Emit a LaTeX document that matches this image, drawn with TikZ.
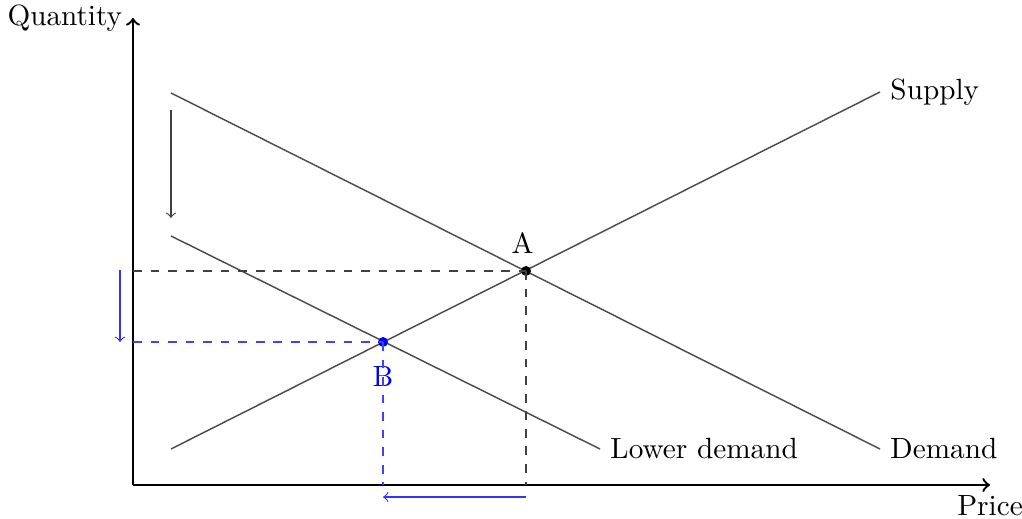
\documentclass[tikz,border=0pt]{standalone}
\usetikzlibrary{positioning, calc}
\tikzset{
  axisline/.style={thick, draw=black, ->},
  curveline/.style={draw=black!70, line width=0.5pt},
  guide/.style={dashed, draw=black!75},
  guideblue/.style={dashed, draw=blue!75},
  shiftarr/.style={->, draw=black!75},
  shiftblue/.style={->, draw=blue!80},
  eqdot/.style={circle, fill=black, inner sep=0pt, minimum size=3.4pt},
}
\begin{document}
\begin{tikzpicture}[x=0.342pt, y=0.342pt]
  \useasboundingbox (-133,-33) rectangle (889,485);

  % --- axes ---
  \coordinate (O) at (0,0);
  \coordinate (ytop) at (0,467);
  \coordinate (xend) at (857,0);
  \draw[axisline] (O) -- (ytop) node[left] {Quantity};
  \draw[axisline] (O) -- (xend) node[below] {Price};

  % --- curves ---
  \coordinate (s0) at (38,36);
  \coordinate (s1) at (747,393);
  \coordinate (d0) at (38,392);
  \coordinate (d1) at (747,36);
  \coordinate (l0) at (38,249);
  \coordinate (l1) at (467,36);
  \draw[curveline] (s0) -- (s1) node[right] {Supply};
  \draw[curveline] (d0) -- (d1) node[right] {Demand};
  \draw[curveline] (l0) -- (l1) node[right] {Lower demand};

  % --- equilibria ---
  \node[eqdot] (A) at (393,214) {};
  \node[eqdot, fill=blue] (B) at (250,143) {};
  \node[above left=1pt and -7.5pt of A] {A};
  \node[below=3pt of B, text=blue] {B};

  \draw[guide] (O |- A) -- (A.center);
  \draw[guide] (A.center) -- (A |- O);
  \draw[guideblue] (O |- B) -- (B.center);
  \draw[guideblue] (B.center) -- (B |- O);

  % --- shifts ---
  \coordinate (dshift0) at (38,375);
  \coordinate (dshift1) at (38,267);
  \draw[shiftarr] (dshift0) -- (dshift1);
  \coordinate (qshift0) at (-13,215);
  \coordinate (qshift1) at (-13,143);
  \draw[shiftblue] (qshift0) -- (qshift1);
  \coordinate (pshift0) at (393,-12);
  \coordinate (pshift1) at (250,-12);
  \draw[shiftblue] (pshift0) -- (pshift1);
\end{tikzpicture}
\end{document}
